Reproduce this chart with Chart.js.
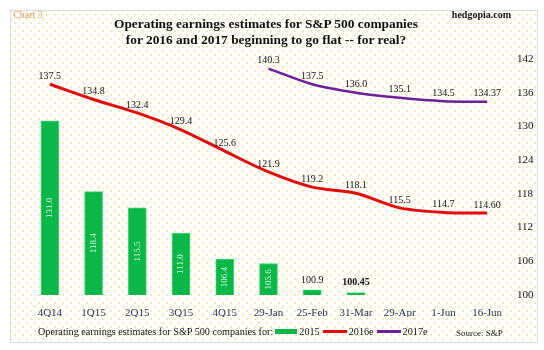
<!DOCTYPE html>
<html>
<head>
<meta charset="utf-8">
<script src="https://cdn.jsdelivr.net/npm/chart.js@4.4.1/dist/chart.umd.min.js"></script>
<style>
  html, body { margin: 0; padding: 0; background: #fff; }
  body { width: 544px; height: 350px; position: relative; overflow: hidden; font-family: "Liberation Serif", "DejaVu Serif", serif; }
  .frame {
    position: absolute; left: 10px; top: 10px; width: 526px; height: 331px;
    border: 1px solid #d9dee6;
    background-color: #fffefb;
    background-image:
      radial-gradient(circle, #efeab8 0.8px, transparent 1.2px),
      radial-gradient(circle, #efeab8 0.8px, transparent 1.2px);
    background-size: 8px 8px, 8px 8px;
    background-position: 0 0, 4px 4px;
  }
  canvas { position: absolute; left: 0; top: 0; }
  .tag { position: absolute; left: 13px; top: 9px; font-size: 10px; color: #e39a6a; }
  .site { position: absolute; right: 33px; top: 9px; font-size: 10px; font-weight: bold; color: #111; }
  .title { position: absolute; left: 0; width: 532px; top: 16px; text-align: center; font-size: 13.4px; font-weight: bold; line-height: 16px; color: #111; }
  .legend { position: absolute; left: 38px; top: 326px; font-size: 10.2px; color: #111; white-space: nowrap; display: flex; align-items: center; }
  .legend .box { display: inline-block; width: 22px; height: 5px; margin: 0 2px 0 2px; }
  .legend .ln { display: inline-block; width: 24px; height: 2.5px; margin: 0 2px 0 3px; }
  .source { position: absolute; left: 456px; top: 328px; font-size: 9px; color: #111; }
</style>
</head>
<body>
<div class="frame"></div>
<canvas id="chart" width="544" height="350"></canvas>
<div class="tag">Chart 3</div>
<div class="site">hedgopia.com</div>
<div class="title">Operating earnings estimates for S&amp;P 500 companies<br>for 2016 and 2017 beginning to go flat -- for real?</div>
<div class="legend" id="legend"></div>
<div class="source">Source: S&amp;P</div>
<script>
const categories = ["4Q14", "1Q15", "2Q15", "3Q15", "4Q15", "29-Jan", "25-Feb", "31-Mar", "29-Apr", "1-Jun", "16-Jun"];
const est2015 = [131.0, 118.4, 115.5, 111.0, 106.4, 105.6, 100.9, 100.45, null, null, null];
const est2016 = [137.5, 134.8, 132.4, 129.4, 125.6, 121.9, 119.2, 118.1, 115.5, 114.7, 114.60];
const est2017 = [null, null, null, null, null, 140.3, 137.5, 136.0, 135.1, 134.5, 134.37];
const text2015 = ["131.0", "118.4", "115.5", "111.0", "106.4", "105.6", "100.9", "100.45", "", "", ""];
const text2016 = ["137.5", "134.8", "132.4", "129.4", "125.6", "121.9", "119.2", "118.1", "115.5", "114.7", "114.60"];
const text2017 = ["", "", "", "", "", "140.3", "137.5", "136.0", "135.1", "134.5", "134.37"];
const yMin = 100, yMax = 142, yStep = 6;

const serif = "'Liberation Serif', 'DejaVu Serif', serif";
const green = "#0ab748", red = "#e30b0b", purple = "#6b1f9c";

const legendPrefix = "Operating earnings estimates for S&P 500 companies for:";

// labels on bars and points
const valueLabels = {
  id: "valueLabels",
  afterDraw(chart) {
    const ctx = chart.ctx;
    const xs = chart.scales.x, ys = chart.scales.y;
    const base = ys.getPixelForValue(yMin);
    chart.data.datasets.forEach(ds => {
      ds.data.forEach((v, i) => {
        const txt = ds.valueText[i];
        if (v == null || !txt) return;
        const x = xs.getPixelForValue(i);
        const y = ys.getPixelForValue(v);
        ctx.save();
        if (ds.type === "bar" && base - y > 20) {
          ctx.translate(x, (y + base) / 2);
          ctx.rotate(-Math.PI / 2);
          ctx.font = "9px " + serif;
          ctx.fillStyle = "#d4f7dc";
          ctx.textAlign = "center";
          ctx.textBaseline = "middle";
          ctx.fillText(txt, 0, 0);
        } else {
          const bold = ds.type === "bar" && i === 7;
          ctx.font = (bold ? "bold " : "") + "10px " + serif;
          ctx.fillStyle = "#111";
          ctx.textAlign = "center";
          ctx.textBaseline = "bottom";
          ctx.fillText(txt, x, y - (ds.type === "bar" ? 5 : 3));
        }
        ctx.restore();
      });
    });
  }
};

const chart = new Chart(document.getElementById("chart"), {
  data: {
    labels: categories,
    datasets: [
      {
        type: "bar", label: "2015", data: est2015, valueText: text2015,
        backgroundColor: green, borderColor: "#3ad877", borderWidth: 1,
        barThickness: 18, yAxisID: "y", order: 3
      },
      {
        type: "line", label: "2016e", data: est2016, valueText: text2016,
        borderColor: red, borderWidth: 3, pointRadius: 0, tension: 0.3,
        fill: false, yAxisID: "y", order: 2
      },
      {
        type: "line", label: "2017e", data: est2017, valueText: text2017,
        borderColor: purple, borderWidth: 2.5, pointRadius: 0, tension: 0.3,
        fill: false, yAxisID: "y", order: 1
      }
    ]
  },
  options: {
    responsive: false,
    animation: false,
    layout: { padding: { left: 28, top: 59, right: 0, bottom: 33 } },
    plugins: { legend: { display: false }, title: { display: false }, tooltip: { enabled: false } },
    scales: {
      x: {
        offset: true,
        grid: { display: false },
        border: { display: false },
        ticks: { color: "#1e2f4f", font: { family: serif, size: 11 }, padding: 4, maxRotation: 0, autoSkip: false },
        afterFit(s) { s.height = 22; }
      },
      y: {
        position: "right",
        min: yMin, max: yMax,
        grid: { display: false, drawTicks: false },
        border: { display: false },
        ticks: { stepSize: yStep, color: "#111", font: { family: serif, size: 11 }, padding: 8 },
        afterFit(s) { s.width = 35; }
      }
    }
  },
  plugins: [valueLabels]
});

// legend row
const legend = document.getElementById("legend");
let html = "<span>" + legendPrefix.replace("&", "&amp;") + "</span>";
chart.data.datasets.forEach(ds => {
  const cls = ds.type === "bar" ? "box" : "ln";
  const col = ds.type === "bar" ? ds.backgroundColor : ds.borderColor;
  html += '<span class="' + cls + '" style="background:' + col + '"></span><span>' + ds.label + "</span>";
});
legend.innerHTML = html;
</script>
</body>
</html>
